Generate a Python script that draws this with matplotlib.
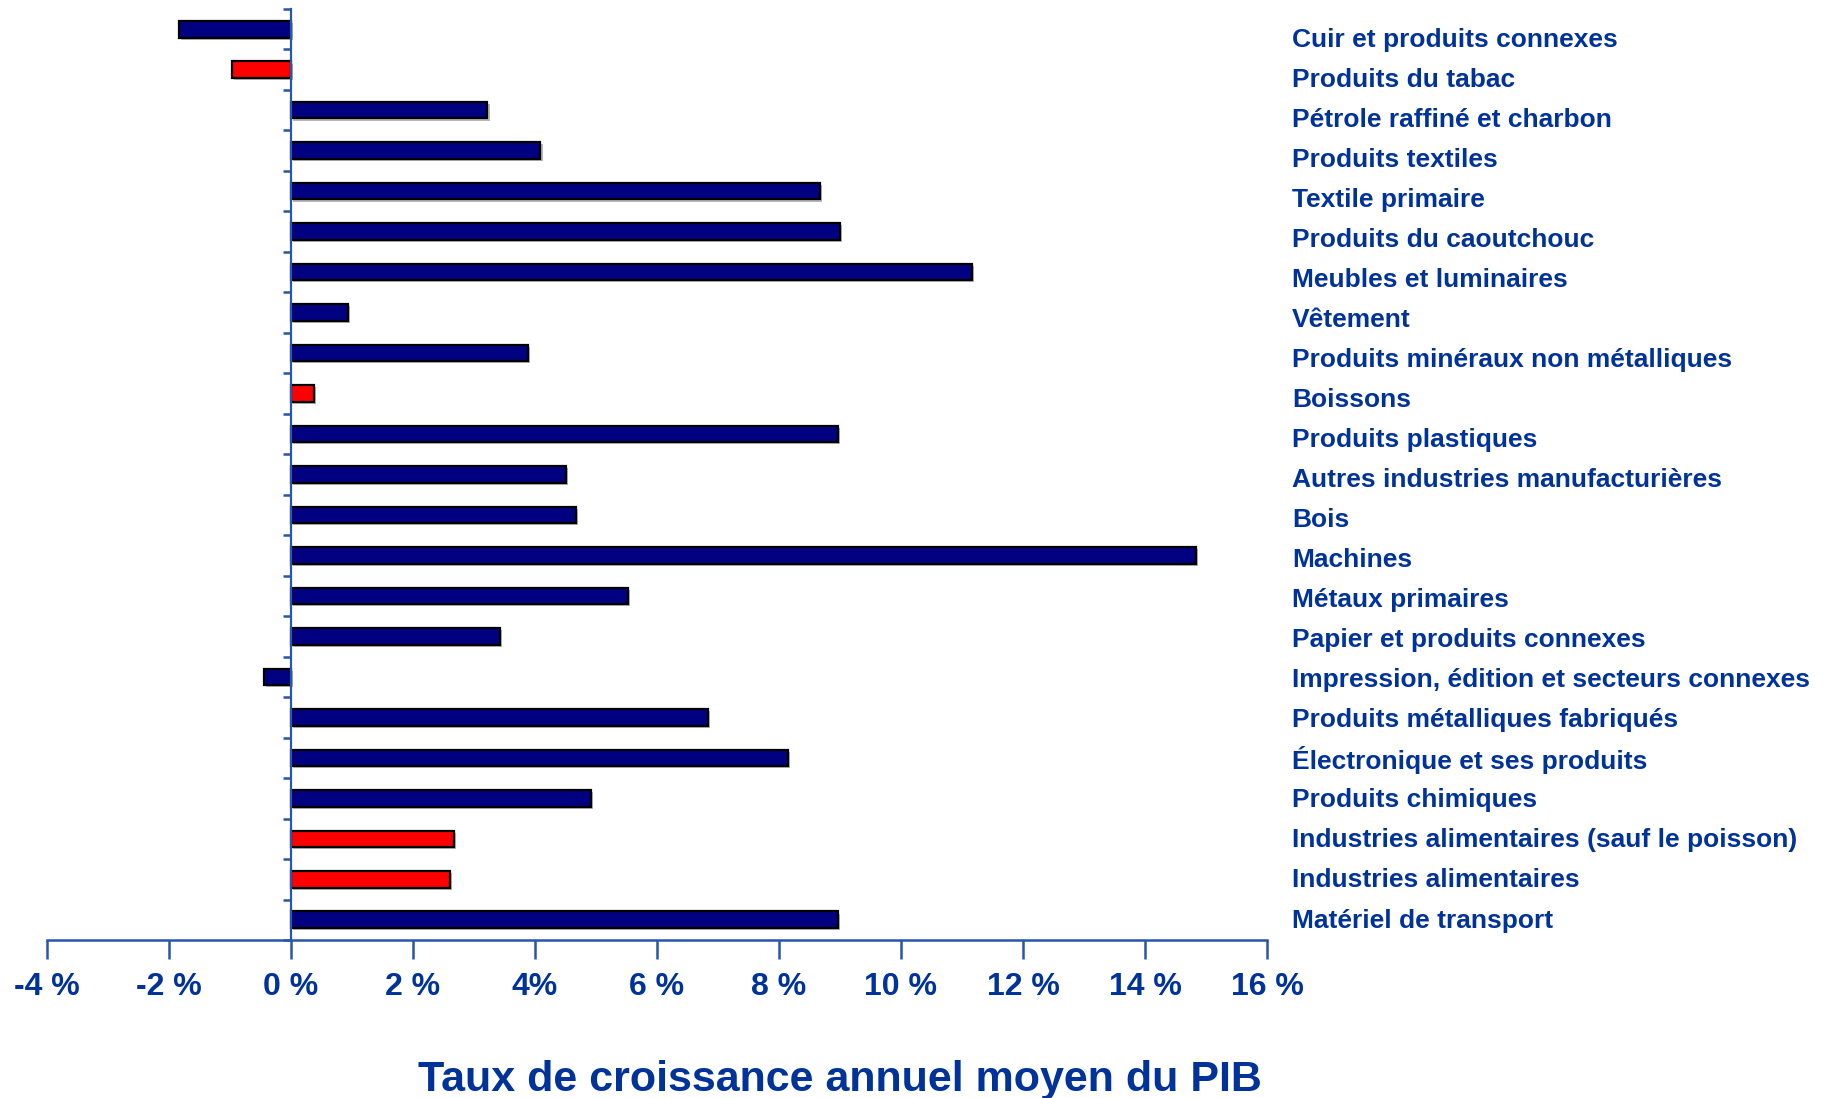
import matplotlib
matplotlib.use("Agg")
import matplotlib.pyplot as plt
import matplotlib.patheffects as pe

categories = [
    "Cuir et produits connexes",
    "Produits du tabac",
    "Pétrole raffiné et charbon",
    "Produits textiles",
    "Textile primaire",
    "Produits du caoutchouc",
    "Meubles et luminaires",
    "Vêtement",
    "Produits minéraux non métalliques",
    "Boissons",
    "Produits plastiques",
    "Autres industries manufacturières",
    "Bois",
    "Machines",
    "Métaux primaires",
    "Papier et produits connexes",
    "Impression, édition et secteurs connexes",
    "Produits métalliques fabriqués",
    "Électronique et ses produits",
    "Produits chimiques",
    "Industries alimentaires (sauf le poisson)",
    "Industries alimentaires",
    "Matériel de transport",
]
values = [-1.83, -0.97, 3.22, 4.09, 8.67, 9.00, 11.17, 0.94, 3.89, 0.38,
          8.97, 4.51, 4.67, 14.83, 5.52, 3.43, -0.45, 6.84, 8.15, 4.91,
          2.67, 2.61, 8.97]
highlight = [False, True, False, False, False, False, False, False, False, True,
             False, False, False, False, False, False, False, False, False, False,
             True, True, False]
xticks = [-4, -2, 0, 2, 4, 6, 8, 10, 12, 14, 16]
xtick_labels = ["-4 %", "-2 %", "0 %", "2 %", "4%", "6 %", "8 %", "10 %", "12 %", "14 %", "16 %"]
title = "Taux de croissance annuel moyen du PIB"

TEXT = "#003399"
AXC = "#2856A8"
NAVY = "#000080"
RED = "#FF0000"

plt.rcParams['font.family'] = ['Liberation Sans', 'DejaVu Sans']

W, H = 1832, 1098
fig = plt.figure(figsize=(W / 100, H / 100), dpi=100)
ax = fig.add_axes([47 / W, (H - 940) / H, 1220 / W, 931 / H])

n = len(categories)
ypos = list(range(n))
colors = [RED if h else NAVY for h in highlight]
bars = ax.barh(ypos, values, height=0.41, color=colors, edgecolor="black", linewidth=1.6, zorder=3)
for b in bars:
    b.set_path_effects([pe.SimplePatchShadow(offset=(1.5, -1.5), shadow_rgbFace="#888888", alpha=0.6), pe.Normal()])

ax.set_xlim(-4, 16)
ax.set_ylim(n - 0.5, -0.5)

for s in ["top", "right"]:
    ax.spines[s].set_visible(False)
ax.spines["left"].set_position(("data", 0))
ax.spines["left"].set_color(AXC)
ax.spines["left"].set_linewidth(1.6)
ax.spines["left"].set_zorder(4)
ax.spines["bottom"].set_color(AXC)
ax.spines["bottom"].set_linewidth(1.8)

ax.set_xticks(xticks)
ax.set_xticklabels(xtick_labels, fontsize=23, fontweight="bold", color=TEXT)
ax.tick_params(axis="x", direction="out", length=14, width=1.8, color=AXC, pad=9)

ax.set_yticks([i - 0.5 for i in range(n + 1)])
ax.set_yticklabels([])
ax.tick_params(axis="y", direction="out", length=6, width=1.8, color=AXC)

ax2 = ax.twinx()
ax2.set_ylim(22.549, -0.7095)
ax2.set_yticks(ypos)
ax2.set_yticklabels(categories, fontsize=19, fontweight="bold", color=TEXT)
ax2.tick_params(axis="y", length=0, pad=18)
for s in ax2.spines.values():
    s.set_visible(False)

fig.text(840 / W, (H - 1091) / H, title, ha="center", va="baseline",
         fontsize=31, fontweight="bold", color=TEXT)

fig.savefig("out.png", dpi=100)
